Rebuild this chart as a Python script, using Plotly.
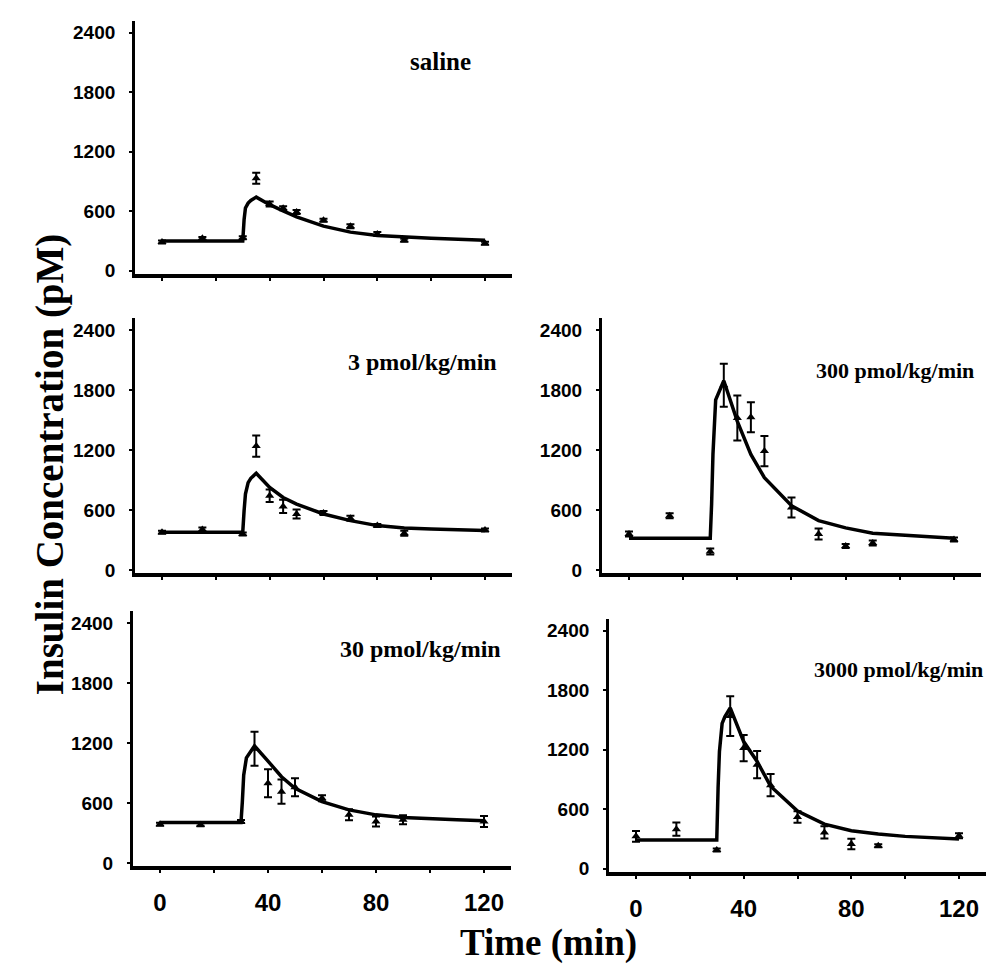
import plotly.graph_objects as go

# ---------------- data ----------------
sample_times = [0, 15, 30, 35, 40, 45, 50, 60, 70, 80, 90, 120]
fit_times = [0, 30, 30.5, 31, 32, 33, 35, 40, 45, 50, 60, 70, 80, 90, 100, 110, 120]

saline_mean = [290, 327, 333, 933, 673, 630, 593, 510, 450, 370, 307, 277]
saline_err = [15, 15, 15, 55, 25, 20, 20, 15, 20, 20, 15, 15]
saline_fit = [300, 300, 517, 633, 683, 710, 743, 667, 605, 543, 450, 390, 357, 340, 328, 318, 307]

p3_mean = [381, 407, 364, 1242, 745, 639, 563, 573, 520, 447, 371, 404]
p3_err = [15, 20, 15, 106, 63, 66, 46, 20, 25, 15, 25, 15]
p3_fit = [381, 381, 596, 762, 877, 920, 970, 828, 728, 662, 563, 497, 447, 424, 412, 404, 397]

p30_mean = [387, 381, 414, 1142, 795, 712, 755, 646, 480, 414, 430, 414]
p30_err = [15, 15, 15, 170, 140, 122, 90, 30, 55, 50, 45, 55]
p30_fit = [404, 404, 613, 877, 1050, 1093, 1169, 1017, 861, 745, 613, 530, 480, 454, 440, 430, 421]

p300_mean = [364, 546, 189, 1850, 1523, 1530, 1192, 629, 364, 242, 272, 308]
p300_err = [25, 25, 30, 215, 225, 150, 152, 100, 55, 20, 25, 20]
p300_fit = [321, 321, 662, 1159, 1705, 1771, 1895, 1490, 1159, 927, 646, 497, 424, 371, 355, 338, 321]

p3000_mean = [327, 400, 190, 1540, 1217, 1050, 843, 523, 367, 250, 233, 333]
p3000_err = [55, 67, 15, 200, 133, 137, 112, 58, 62, 53, 15, 25]
p3000_fit = [290, 290, 817, 1183, 1467, 1533, 1623, 1283, 1083, 833, 583, 450, 383, 350, 327, 310, 300]

panel_labels = ["saline", "3 pmol/kg/min", "300 pmol/kg/min", "30 pmol/kg/min", "3000 pmol/kg/min"]
y_ticks = [0, 600, 1200, 1800, 2400]
x_ticks = [0, 20, 40, 60, 80, 100, 120]
x_ticktext = ["0", "", "40", "", "80", "", "120"]

# ---------------- layout geometry (pixels) ----------------
W, H = 998, 965
X_RANGE = [-10, 130]
Y_RANGE = [-30, 2520]
# (x pixel of t=0, x pixel of t=120, y pixel of 0, y pixel of 2400, show x labels)
geom = [
    (154, 477, 265, 25, False),
    (154, 477, 567, 325, False),
    (621, 946, 567, 325, False),
    (152, 476, 862, 620, True),
    (628, 951, 868, 628, True),
]
label_pos = [(400, 54), (338, 357), (806, 366), (330, 646), (804, 667)]
label_size = [25, 24, 22, 24, 22]

series = [
    (saline_mean, saline_err, saline_fit),
    (p3_mean, p3_err, p3_fit),
    (p300_mean, p300_err, p300_fit),
    (p30_mean, p30_err, p30_fit),
    (p3000_mean, p3000_err, p3000_fit),
]

fig = go.Figure()
layout = dict(
    width=W, height=H, margin=dict(l=0, r=0, t=0, b=0),
    paper_bgcolor="white", plot_bgcolor="white", showlegend=False,
)

tick_font_y = dict(family="Liberation Sans, Arial", size=19, color="black", weight="bold")
tick_font_x = dict(family="Liberation Sans, Arial", size=24, color="black", weight="bold")

annotations = []
for i, ((x0, x120, y0, y2400, showx), (mean, err, fit)) in enumerate(zip(geom, series)):
    n = i + 1
    sx = (x120 - x0) / 120.0
    left = x0 + X_RANGE[0] * sx
    right = x0 + X_RANGE[1] * sx
    sy = (y0 - y2400) / 2400.0
    bottom = y0 - Y_RANGE[0] * sy
    top = y0 - Y_RANGE[1] * sy
    xa = "x" if n == 1 else f"x{n}"
    ya = "y" if n == 1 else f"y{n}"
    layout["xaxis" if n == 1 else f"xaxis{n}"] = dict(
        domain=[left / W, right / W], range=X_RANGE, anchor=ya,
        showgrid=False, zeroline=False, showline=True, linewidth=3.5, linecolor="black",
        ticks="outside", ticklen=3, tickwidth=1.5, tickcolor="black",
        tickvals=x_ticks, ticktext=x_ticktext, showticklabels=showx,
        tickfont=tick_font_x, ticklabelstandoff=10,
    )
    layout["yaxis" if n == 1 else f"yaxis{n}"] = dict(
        domain=[1 - bottom / H, 1 - top / H], range=Y_RANGE, anchor=xa,
        showgrid=False, zeroline=False, showline=True, linewidth=3, linecolor="black",
        ticks="outside", ticklen=3, tickwidth=1.5, tickcolor="black",
        tickvals=y_ticks, tickfont=tick_font_y, ticklabelstandoff=10,
    )
    fig.add_trace(go.Scatter(
        x=fit_times, y=fit, mode="lines", xaxis=xa, yaxis=ya,
        line=dict(color="black", width=3.5), hoverinfo="skip",
    ))
    fig.add_trace(go.Scatter(
        x=sample_times, y=mean, mode="markers", xaxis=xa, yaxis=ya,
        marker=dict(symbol="triangle-up", size=8, color="black"),
        error_y=dict(type="data", array=err, visible=True, color="black", thickness=2, width=4),
    ))
    lx, ly = label_pos[i]
    annotations.append(dict(
        x=lx / W, y=1 - ly / H, xref="paper", yref="paper", xanchor="left", yanchor="middle",
        text=panel_labels[i], showarrow=False,
        font=dict(family="Liberation Serif, Times New Roman", size=label_size[i], color="black", weight="bold"),
    ))

annotations.append(dict(
    x=42 / W, y=1 - 460 / H, xref="paper", yref="paper", xanchor="center", yanchor="middle",
    text="Insulin Concentration (pM)", textangle=-90, showarrow=False,
    font=dict(family="Liberation Serif, Times New Roman", size=39, color="black", weight="bold"),
))
annotations.append(dict(
    x=540 / W, y=1 - 943 / H, xref="paper", yref="paper", xanchor="center", yanchor="middle",
    text="Time (min)", showarrow=False,
    font=dict(family="Liberation Serif, Times New Roman", size=37, color="black", weight="bold"),
))
layout["annotations"] = annotations
fig.update_layout(**layout)
fig.write_html("out.html")
